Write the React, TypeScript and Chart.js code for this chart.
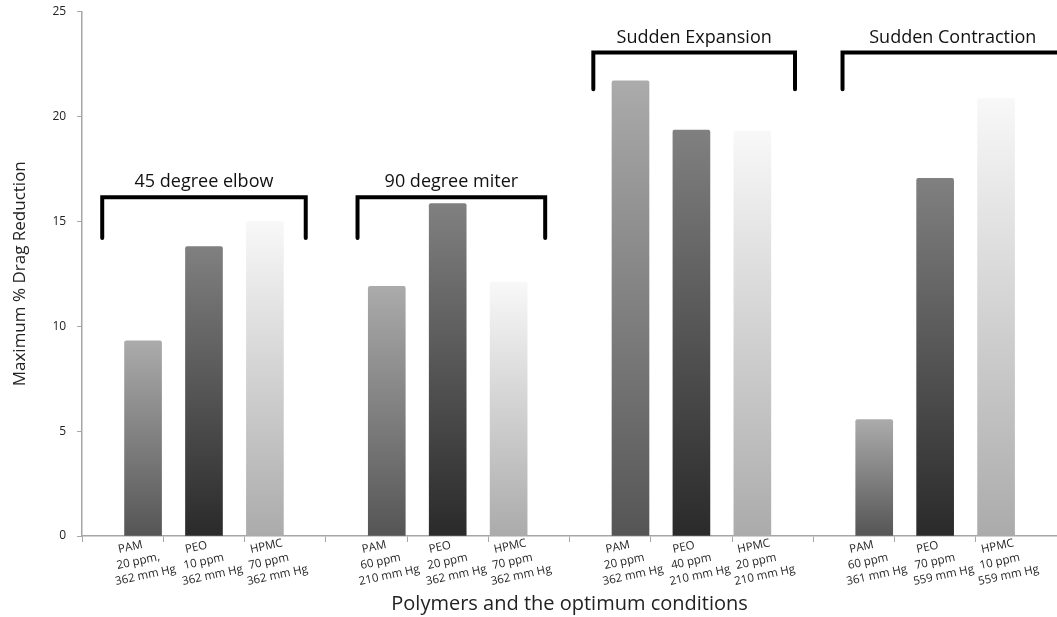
import { useEffect, useRef } from "react";
import { Chart, registerables } from "chart.js";

Chart.register(...registerables);

// ---- data ----
const groupNames = ["45 degree elbow", "90 degree miter", "Sudden Expansion", "Sudden Contraction"];
const barGroup = [0, 0, 0, 1, 1, 1, 2, 2, 2, 3, 3, 3];
const polymers = ["PAM", "PEO", "HPMC", "PAM", "PEO", "HPMC", "PAM", "PEO", "HPMC", "PAM", "PEO", "HPMC"];
const concentrations = ["20 ppm,", "10 ppm", "70 ppm", "60 ppm", "20 ppm", "70 ppm", "20 ppm", "40 ppm", "20 ppm", "60 ppm", "70 ppm", "10 ppm"];
const pressures = ["362 mm Hg", "362 mm Hg", "362 mm Hg", "210 mm Hg", "362 mm Hg", "362 mm Hg", "362 mm Hg", "210 mm Hg", "210 mm Hg", "361 mm Hg", "559 mm Hg", "559 mm Hg"];
const dragReduction = [9.3, 13.8, 15.0, 11.9, 15.85, 12.1, 21.7, 19.35, 19.3, 5.55, 17.05, 20.85];
const yTickValues = [0, 5, 10, 15, 20, 25];

// bracket annotations (in data units of the axes)
const bracketFrom = [0.33, 4.52, 8.39, 12.48];
const bracketTo = [3.67, 7.6, 11.7, 16.1];
const bracketLevel = [16.15, 16.15, 23.05, 23.05];
const bracketArmEnd = [14.2, 14.2, 21.3, 21.3];

// slot of each bar on the x axis: 4 slots per group, bars in slots 1..3
const slots: number[] = (() => {
  const counts: number[] = [0, 0, 0, 0];
  return barGroup.map((g) => {
    counts[g] += 1;
    return g * 4 + counts[g];
  });
})();

const gradients: Record<string, [string, string]> = {
  PAM: ["#ababab", "#555555"],
  PEO: ["#808080", "#2a2a2a"],
  HPMC: ["#f8f8f8", "#ababab"],
};
const labelShift: Record<string, number> = { PAM: -24, PEO: -18, HPMC: -14 };

const FONT = "'Open Sans', 'DejaVu Sans', sans-serif";

const annotationPlugin = {
  id: "annotations",
  afterDraw(chart: any) {
    const { ctx, scales } = chart;
    const x = scales.x;
    const y = scales.y;
    ctx.save();
    // category labels
    ctx.font = `11.5px ${FONT}`;
    ctx.fillStyle = "#262626";
    ctx.textAlign = "left";
    ctx.textBaseline = "alphabetic";
    dragReduction.forEach((_v, i) => {
      const lines = [polymers[i], concentrations[i], pressures[i]];
      const cx = x.getPixelForValue(slots[i]);
      const dx = labelShift[polymers[i]];
      lines.forEach((t, k) => {
        ctx.save();
        ctx.translate(cx + dx - k * 1.5, x.top + 17 + k * 16);
        ctx.rotate((-12 * Math.PI) / 180);
        ctx.fillText(t, 0, 0);
        ctx.restore();
      });
    });
    // brackets
    ctx.lineWidth = 4;
    ctx.strokeStyle = "#000";
    ctx.lineCap = "round";
    ctx.lineJoin = "miter";
    ctx.font = `18px ${FONT}`;
    ctx.fillStyle = "#111";
    ctx.textAlign = "center";
    ctx.textBaseline = "middle";
    groupNames.forEach((name, g) => {
      const x0 = x.getPixelForValue(bracketFrom[g]);
      const x1 = x.getPixelForValue(bracketTo[g]);
      const yl = y.getPixelForValue(bracketLevel[g]);
      const ya = y.getPixelForValue(bracketArmEnd[g]);
      ctx.beginPath();
      ctx.moveTo(x0, ya);
      ctx.lineTo(x0, yl);
      ctx.lineTo(x1, yl);
      ctx.lineTo(x1, ya);
      ctx.stroke();
      ctx.fillText(name, (x0 + x1) / 2, yl - 15);
    });
    ctx.restore();
  },
};

export default function App() {
  const canvasRef = useRef<HTMLCanvasElement | null>(null);

  useEffect(() => {
    if (!canvasRef.current) return;
    const chart = new Chart(canvasRef.current, {
      type: "bar",
      data: {
        datasets: [
          {
            label: "Maximum % Drag Reduction",
            data: dragReduction.map((v, i) => ({ x: slots[i], y: v })),
            barThickness: 37,
            borderWidth: 0,
            borderRadius: 2,
            backgroundColor: (c: any) => {
              const ch = c.chart;
              const i = c.dataIndex;
              if (!ch.chartArea || i === undefined) return "#888";
              const ys = ch.scales.y;
              const top = ys.getPixelForValue(dragReduction[i]);
              const bottom = ys.getPixelForValue(0);
              const grad = ch.ctx.createLinearGradient(0, top, 0, bottom);
              const [c0, c1] = gradients[polymers[i]];
              grad.addColorStop(0, c0);
              grad.addColorStop(1, c1);
              return grad;
            },
          },
        ],
      },
      options: {
        animation: false,
        responsive: true,
        maintainAspectRatio: false,
        layout: { padding: { top: 11.5, left: 0, right: 0, bottom: 0 } },
        plugins: {
          legend: { display: false },
          tooltip: { enabled: false },
        },
        scales: {
          x: {
            type: "linear",
            min: 0,
            max: 16,
            offset: false,
            afterBuildTicks: (scale: any) => {
              scale.ticks = Array.from({ length: 13 }, (_u, k) => ({ value: (k * 16) / 12 }));
            },
            grid: {
              display: true,
              offset: false,
              drawOnChartArea: false,
              drawTicks: true,
              tickLength: 6,
              color: "#a6a6a6",
            },
            border: { display: true, color: "#a6a6a6", width: 1.5 },
            ticks: { display: false },
            title: {
              display: true,
              text: "Polymers and the optimum conditions",
              font: { family: FONT, size: 20 },
              color: "#222",
              padding: { top: 50, bottom: 1 },
            },
          },
          y: {
            min: 0,
            max: 25,
            afterBuildTicks: (scale: any) => {
              scale.ticks = yTickValues.map((v) => ({ value: v }));
            },
            afterFit: (scale: any) => {
              scale.paddingTop = 0;
            },
            ticks: {
              padding: 11,
              font: { family: FONT, size: 12 },
              color: "#222",
            },
            grid: {
              drawOnChartArea: false,
              tickLength: 5,
              color: "#a6a6a6",
            },
            border: { color: "#a6a6a6", width: 1.5 },
            title: {
              display: true,
              text: "Maximum % Drag Reduction",
              font: { family: FONT, size: 17 },
              color: "#222",
              padding: { top: 10, bottom: 11 },
            },
          },
        },
      },
      plugins: [annotationPlugin],
    });
    return () => chart.destroy();
  }, []);

  return (
    <div style={{ position: "absolute", left: 0, top: 0, width: 1057, height: 617 }}>
      <canvas ref={canvasRef} />
    </div>
  );
}
